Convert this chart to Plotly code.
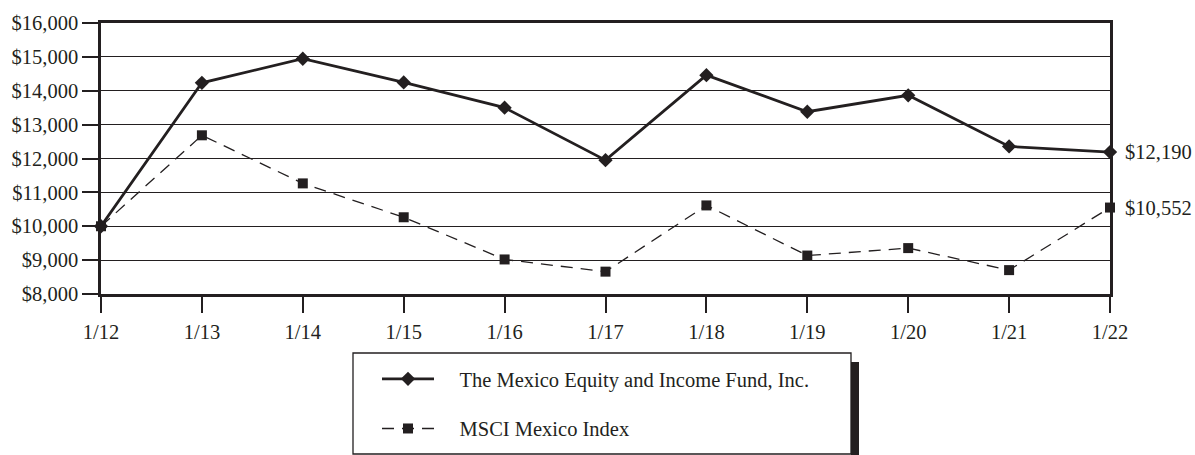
import plotly.graph_objects as go

# ---- data ----
dates = ["1/12", "1/13", "1/14", "1/15", "1/16", "1/17", "1/18", "1/19", "1/20", "1/21", "1/22"]
fund_name = "The Mexico Equity and Income Fund, Inc."
index_name = "MSCI Mexico Index"
fund_values = [10000, 14235, 14945, 14245, 13500, 11950, 14460, 13380, 13865, 12355, 12190]
index_values = [10000, 12685, 11265, 10265, 9020, 8660, 10615, 9135, 9355, 8705, 10552]
y_ticks = [8000, 9000, 10000, 11000, 12000, 13000, 14000, 15000, 16000]
y_tick_text = [f"${v:,}" for v in y_ticks]

INK = "#231f20"
FONT = "Liberation Serif"
FS = 20.5

W, H = 1195, 455
ML, MR, MT, MB = 101, 85, 23, 161
PW, PH = W - ML - MR, H - MT - MB


def px_x(px):
    return (px - ML) / PW


def px_y(py):
    return (H - MB - py) / PH


xs = list(range(len(dates)))
fig = go.Figure()
fig.add_trace(go.Scatter(
    x=xs, y=fund_values, mode="lines+markers", name="\u00a0\u00a0\u00a0\u00a0" + fund_name,
    line=dict(color=INK, width=2.8),
    marker=dict(symbol="diamond", size=11, color=INK),
    cliponaxis=False, legendgroup="a",
))
fig.add_trace(go.Scatter(
    x=xs, y=index_values, mode="lines+markers", name="\u00a0\u00a0\u00a0\u00a0" + index_name,
    line=dict(color=INK, width=1.3, dash="12px,8px"),
    marker=dict(symbol="square", size=10, color=INK),
    cliponaxis=False, legendgroup="b",
))

for vals in (fund_values, index_values):
    fig.add_annotation(
        x=xs[-1], y=vals[-1], text=f"${vals[-1]:,}", showarrow=False,
        xanchor="left", yanchor="middle", xshift=13,
        font=dict(family=FONT, size=FS, color=INK),
    )

# legend box and shadow
fig.add_shape(type="rect", xref="paper", yref="paper",
              x0=px_x(851), x1=px_x(859), y0=px_y(456), y1=px_y(362),
              fillcolor=INK, line=dict(width=0), layer="above")
fig.add_shape(type="rect", xref="paper", yref="paper",
              x0=px_x(353), x1=px_x(851), y0=px_y(454), y1=px_y(353),
              fillcolor="rgba(0,0,0,0)", line=dict(color=INK, width=1.3), layer="above")

fig.update_layout(
    width=W, height=H,
    margin=dict(l=ML, r=MR, t=MT, b=MB, autoexpand=False),
    paper_bgcolor="white", plot_bgcolor="white",
    font=dict(family=FONT, size=FS, color=INK),
    showlegend=True,
    legend=dict(
        x=px_x(377), y=px_y(449), xanchor="left", yanchor="bottom",
        bgcolor="rgba(0,0,0,0)", borderwidth=0,
        itemwidth=52, tracegroupgap=20, traceorder="grouped",
        font=dict(family=FONT, size=FS, color=INK),
    ),
    xaxis=dict(
        range=[0, len(dates) - 1], tickmode="array", tickvals=xs, ticktext=dates,
        showgrid=False, zeroline=False,
        showline=True, linecolor=INK, linewidth=2.5, mirror=True,
        ticks="outside", ticklen=16, tickwidth=1.5, tickcolor=INK,
        ticklabelstandoff=2,
        tickfont=dict(family=FONT, size=FS, color=INK),
    ),
    yaxis=dict(
        range=[8000, 16000], tickmode="array", tickvals=y_ticks, ticktext=y_tick_text,
        showgrid=True, gridcolor=INK, gridwidth=1.3, zeroline=False,
        showline=True, linecolor=INK, linewidth=2.5, mirror=True,
        ticks="outside", ticklen=16, tickwidth=1.5, tickcolor=INK,
        ticklabelstandoff=0,
        tickfont=dict(family=FONT, size=FS, color=INK),
    ),
)

fig.write_html("out.html", config={"displayModeBar": False},
               post_script="document.body.style.margin='0';")
